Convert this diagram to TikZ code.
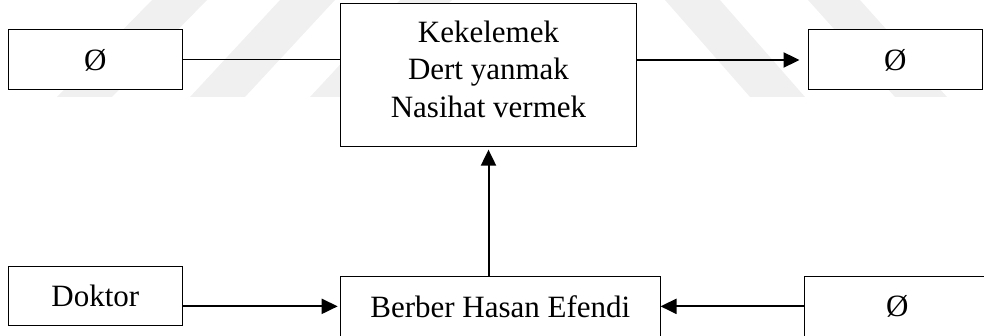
\documentclass[tikz,border=0pt]{standalone}
\usepackage{fontspec}
\setmainfont{Liberation Serif}
\usetikzlibrary{arrows.meta}
\begin{document}
\begin{tikzpicture}[x=1pt,y=-1pt,
  txt/.style={font=\fontsize{31}{37.3}\selectfont},
  box/.style={draw, fill=white, line width=1pt, inner sep=0pt, txt},
  link/.style={line width=1pt},
  flow/.style={line width=2pt, -{Triangle[length=16pt,width=15pt]}},
  stripe/.style={fill=black!6, draw=none}]
\useasboundingbox (0,0) rectangle (984,336);
\clip (0,0) rectangle (984,336);

% faint diagonal background bands
\fill[stripe] (57,97) -- (112,97) -- (207,0) -- (152,0) -- cycle;
\fill[stripe] (190,97) -- (245,97) -- (335,0) -- (280,0) -- cycle;
\fill[stripe] (310,97) -- (362,97) -- (452,0) -- (400,0) -- cycle;
\fill[stripe] (665,0) -- (720,0) -- (805,97) -- (750,97) -- cycle;
\fill[stripe] (808,0) -- (860,0) -- (947,97) -- (895,97) -- cycle;

% boxes
\node[box, minimum width=174.2pt, minimum height=60pt] (tl) at (95.4,60) {Ø};
\node[box, minimum width=295.6pt, minimum height=142.7pt,
      label={[name=ctext, align=center, txt, yshift=6pt]center:Kekelemek\\Dert yanmak\\Nasihat vermek}]
      (c) at (488.5,75.3) {};
\node[box, minimum width=174.7pt, minimum height=60pt] (tr) at (895.4,60) {Ø};
\node[box, minimum width=174pt, minimum height=59.7pt] (dk) at (95.3,295.9) {Doktor};
\node[box, minimum width=319.3pt, minimum height=59.3pt] (bh) at (500.35,306.35) {Berber Hasan Efendi};
\node[box, minimum width=185.7pt, minimum height=59.7pt] (br) at (897.2,306.2) {Ø};

% connectors
\draw[link] (tl.east) -- (tl.east -| c.west);
\draw[flow, shorten >=8pt] (c.east |- tr.west) -- (tr.west);
\draw[flow, shorten >=2.5pt] (c.south |- bh.north) -- (c.south);
\draw[flow, shorten >=2.5pt] (dk.east |- bh.west) -- (bh.west);
\draw[flow] (br.west |- bh.east) -- (bh.east);
\end{tikzpicture}
\end{document}
